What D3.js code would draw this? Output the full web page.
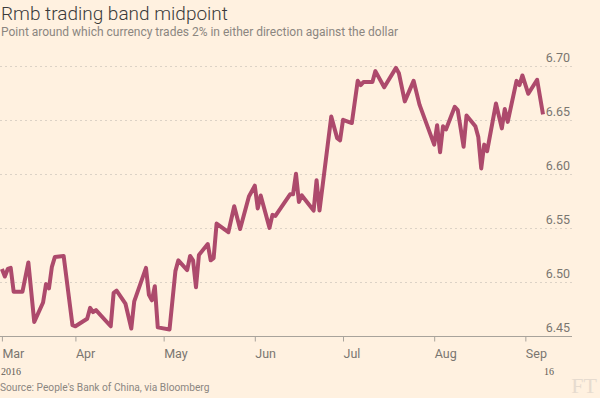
<!DOCTYPE html>
<html>
<head>
<meta charset="utf-8">
<script src="https://cdn.jsdelivr.net/npm/d3@7"></script>
<style>
  html, body { margin: 0; padding: 0; background: #fff1e0; }
  svg { display: block; }
</style>
</head>
<body>
<svg id="chart" width="600" height="398"></svg>
<script>
// ---- data ----
const dates = [
  "2016-03-07","2016-03-08","2016-03-09","2016-03-10","2016-03-11","2016-03-14","2016-03-16","2016-03-18",
  "2016-03-21","2016-03-22","2016-03-23","2016-03-24","2016-03-25","2016-03-28","2016-03-31","2016-04-01",
  "2016-04-05","2016-04-06","2016-04-07","2016-04-08","2016-04-13","2016-04-14","2016-04-15","2016-04-18",
  "2016-04-20","2016-04-21","2016-04-25","2016-04-26","2016-04-27","2016-04-28","2016-04-29","2016-05-03",
  "2016-05-05","2016-05-06","2016-05-09","2016-05-10","2016-05-11","2016-05-12","2016-05-13","2016-05-16",
  "2016-05-17","2016-05-18","2016-05-19","2016-05-23","2016-05-25","2016-05-27","2016-05-30","2016-06-01",
  "2016-06-02","2016-06-03","2016-06-06","2016-06-07","2016-06-08","2016-06-13","2016-06-14","2016-06-15",
  "2016-06-16","2016-06-17","2016-06-21","2016-06-22","2016-06-23","2016-06-27","2016-06-29","2016-06-30",
  "2016-07-01","2016-07-04","2016-07-06","2016-07-07","2016-07-08","2016-07-11","2016-07-12","2016-07-15",
  "2016-07-19","2016-07-20","2016-07-22","2016-07-25","2016-07-27","2016-08-01","2016-08-02","2016-08-03",
  "2016-08-04","2016-08-05","2016-08-08","2016-08-09","2016-08-11","2016-08-12","2016-08-15","2016-08-16",
  "2016-08-17","2016-08-18","2016-08-19","2016-08-22","2016-08-24","2016-08-25","2016-08-26","2016-08-29",
  "2016-08-30","2016-08-31","2016-09-02","2016-09-05","2016-09-07"
];
const midpoint = [
  6.512,6.505,6.512,6.513,6.491,6.491,6.518,6.463,
  6.481,6.498,6.494,6.514,6.523,6.524,6.460,6.459,
  6.466,6.476,6.472,6.474,6.459,6.490,6.492,6.480,
  6.457,6.482,6.513,6.488,6.483,6.496,6.458,6.456,
  6.510,6.520,6.511,6.524,6.520,6.495,6.525,6.535,
  6.520,6.522,6.554,6.546,6.570,6.549,6.579,6.589,
  6.568,6.580,6.550,6.562,6.561,6.581,6.581,6.600,
  6.574,6.580,6.566,6.594,6.566,6.653,6.633,6.631,
  6.650,6.647,6.686,6.682,6.685,6.685,6.695,6.680,
  6.698,6.693,6.667,6.686,6.664,6.627,6.645,6.620,
  6.644,6.641,6.662,6.659,6.625,6.654,6.644,6.634,
  6.605,6.627,6.621,6.665,6.642,6.660,6.648,6.686,
  6.682,6.691,6.674,6.687,6.655
];
const yTicks = [6.45, 6.50, 6.55, 6.60, 6.65, 6.70];
const xTickDates = ["2016-03-07","2016-04-01","2016-05-01","2016-06-01","2016-07-01","2016-08-01","2016-09-01"];
const xTickLabels = ["Mar","Apr","May","Jun","Jul","Aug","Sep"];
const domainDates = ["2016-03-07","2016-09-07"];

const title = "Rmb trading band midpoint";
const subtitle = "Point around which currency trades 2% in either direction against the dollar";
const source = "Source: People's Bank of China, via Bloomberg";

// ---- drawing ----
const parse = d3.utcParse("%Y-%m-%d");
const data = dates.map((d, i) => ({ date: parse(d), value: midpoint[i] }));

const svg = d3.select("#chart");
const plotLeft = 1.9, plotRight = 543, gridRight = 572;
const yTop = 65.7, yBottom = 336;

const x = d3.scaleUtc().domain(domainDates.map(parse)).range([plotLeft, plotRight]);
const y = d3.scaleLinear().domain([6.45, 6.70]).range([yBottom, yTop]);

const sans = "'Roboto', 'Liberation Sans', sans-serif";
const serif = "'Liberation Serif', 'DejaVu Serif', serif";

// title
svg.append("text").attr("x", 1).attr("y", 20)
  .attr("font-family", sans).attr("font-size", 19).attr("font-weight", 300)
  .attr("fill", "#3a3a3a").text(title);
svg.append("text").attr("x", 1).attr("y", 36)
  .attr("font-family", sans).attr("font-size", 12)
  .attr("fill", "#8b8680").text(subtitle);

// gridlines (dashed)
const grid = svg.append("g");
grid.selectAll("line").data(yTicks.filter(v => v !== 6.45)).join("line")
  .attr("x1", 0).attr("x2", gridRight)
  .attr("y1", d => Math.round(y(d)) + 0.5).attr("y2", d => Math.round(y(d)) + 0.5)
  .attr("stroke", "#dcd2c6").attr("stroke-width", 1).attr("stroke-dasharray", "2,3");

// y labels (right)
svg.append("g").selectAll("text").data(yTicks).join("text")
  .attr("x", 570).attr("y", d => y(d) - 4)
  .attr("text-anchor", "end")
  .attr("font-family", sans).attr("font-size", 12.5)
  .attr("fill", "#7a7670")
  .text(d => d.toFixed(2));

// x axis
const xAxis = d3.axisBottom(x)
  .tickValues(xTickDates.map(parse))
  .tickFormat((d, i) => xTickLabels[i])
  .tickSize(5).tickPadding(8);
const gx = svg.append("g").attr("transform", `translate(0,${Math.round(yBottom) + 0.5})`).call(xAxis);
gx.select(".domain").remove();
gx.append("line").attr("x1", 0).attr("x2", gridRight).attr("y1", 0).attr("y2", 0)
  .attr("stroke", "#a8a39b").attr("stroke-width", 1);
gx.selectAll(".tick line").attr("stroke", "#a8a39b");
gx.selectAll(".tick text")
  .attr("text-anchor", "start")
  .attr("font-family", sans).attr("font-size", 12.5)
  .attr("fill", "#7a7670");

// year labels
svg.append("text").attr("x", x(parse(xTickDates[0])) - 1).attr("y", 375)
  .attr("font-family", serif).attr("font-size", 10).attr("fill", "#5f5b55").text("2016");
svg.append("text").attr("x", 544).attr("y", 375)
  .attr("font-family", serif).attr("font-size", 10).attr("fill", "#5f5b55").text("16");

// line
const line = d3.line().x(d => x(d.date)).y(d => y(d.value)).curve(d3.curveLinear);
svg.append("path").datum(data)
  .attr("fill", "none").attr("stroke", "#ad4a6c").attr("stroke-width", 4)
  .attr("stroke-linejoin", "round").attr("stroke-linecap", "butt")
  .attr("d", line);

// source
svg.append("text").attr("x", 0).attr("y", 391)
  .attr("font-family", sans).attr("font-size", 10.2)
  .attr("fill", "#8b8680").text(source);

// FT logo
svg.append("text").attr("x", 597).attr("y", 393).attr("text-anchor", "end")
  .attr("font-family", serif).attr("font-size", 22)
  .attr("fill", "#e6dbcf").text("FT");
</script>
</body>
</html>
